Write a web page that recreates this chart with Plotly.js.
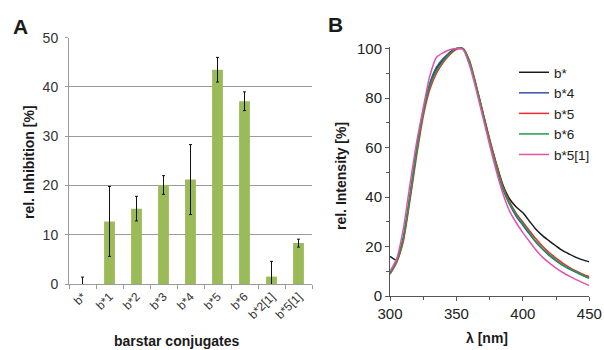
<!DOCTYPE html>
<html>
<head>
<meta charset="utf-8">
<script src="https://cdn.plot.ly/plotly-3.0.1.min.js"></script>
<style>html,body{margin:0;padding:0;background:#fff;}#chart{width:604px;height:350px;}</style>
</head>
<body>
<div id="chart"></div>
<script>
// Panel A data
const conjugates = ["b*", "b*1", "b*2", "b*3", "b*4", "b*5", "b*6", "b*2[1]", "b*5[1]"];
const inhibition = [0, 12.7, 15.3, 20.1, 21.2, 43.5, 37.1, 1.5, 8.3];
const inhibitionErr = [1.4, 7.1, 2.5, 1.9, 7.1, 2.5, 1.9, 3.1, 0.8];

// Panel B data
const wavelength = [300,305,310,315,320,325,330,335,340,345,350,355,360,365,370,375,380,385,390,395,400,405,410,415,420,425,430,435,440,445,450];
const bStar   = [16,14.5,23,40,58.5,74.5,85.5,92,95.5,98.5,100,100,94,84.5,74,63,53.5,44.8,39.2,36,33.6,30.2,26.9,24.3,22.2,20.2,18.3,16.9,15.6,14.6,13.8];
const bStar4  = [9.5,14.5,23.5,40.5,59,75,86,92.5,96,98.3,100,100,93.5,84,73,62,52,43,37,32.2,28.6,25,21.6,18.8,16.3,14.2,12.4,10.9,9.6,8.4,7.3];
const bStar5  = [8.8,13.5,22,38.5,56.5,72.5,83.5,90,94.3,97.5,99.7,100,95,85,74,63.5,53.5,44.2,38,33.4,29.9,26.4,23,20,17.5,15.3,13.3,11.6,10.1,8.8,7.8];
const bStar6  = [9,14,23,40,58,74,85,91,95,98,100,100,94.5,84.5,73.5,62.5,52.5,43.5,37.4,32.9,29.2,25.6,21.9,19.1,16.7,14.5,12.6,11.1,9.8,8.4,7.1];
const bStar51 = [10,15,27,45,62,76,89,96.5,98.3,99.5,100,99.5,93,83,72,61,50.5,41.3,34.3,29.6,25.6,22,18.5,15.6,13.3,11.3,9.5,8,6.6,5.4,4.2];

const seriesNames = ["b*", "b*4", "b*5", "b*6", "b*5[1]"];
const seriesData = [bStar, bStar4, bStar5, bStar6, bStar51];
const seriesColors = ["#1a1a1a", "#3a4fa8", "#ee2a2a", "#1a9e4a", "#e254a6"];

const W = 604, H = 350;
const px = v => v / W;
const py = v => 1 - v / H;
const FONT = "Liberation Sans, Arial, sans-serif";

const traces = [{
  type: "bar",
  x: conjugates,
  y: inhibition,
  xaxis: "x", yaxis: "y",
  width: 0.4,
  marker: {color: "#9bbb59", line: {width: 0}},
  error_y: {type: "data", array: inhibitionErr, visible: true, color: "#111", thickness: 1, width: 1.5},
  showlegend: false
}];

seriesNames.forEach((n, i) => {
  traces.push({
    type: "scatter", mode: "lines",
    x: wavelength, y: seriesData[i],
    xaxis: "x2", yaxis: "y2",
    name: n,
    line: {color: seriesColors[i], width: 1.5, shape: "spline", smoothing: 0.6}
  });
});

function ann(text, x, y, size, angle) {
  return {text: text, x: px(x), y: py(y), xref: "paper", yref: "paper",
    xanchor: "center", yanchor: "middle", showarrow: false, textangle: angle || 0,
    font: {size: size, color: "#1a1a1a", family: FONT}};
}

const layout = {
  width: W, height: H,
  margin: {l: 0, r: 0, t: 0, b: 0},
  paper_bgcolor: "#fff", plot_bgcolor: "rgba(0,0,0,0)",
  font: {family: FONT, color: "#222", size: 13},
  xaxis: {
    domain: [px(69), px(312)],
    anchor: "y",
    type: "category",
    showline: true, linecolor: "#9a9a9a", linewidth: 1,
    ticks: "outside", tickson: "boundaries", ticklen: 4, tickcolor: "#9a9a9a",
    tickangle: -45,
    tickfont: {size: 12, color: "#333", family: FONT},
    showgrid: false, zeroline: false
  },
  yaxis: {
    domain: [py(284), py(37.7)],
    anchor: "x",
    range: [0, 50],
    tickvals: [0, 10, 20, 30, 40, 50],
    showline: true, linecolor: "#9a9a9a", linewidth: 1,
    ticks: "outside", ticklen: 3, tickcolor: "#9a9a9a",
    showgrid: true, gridcolor: "#9a9a9a", gridwidth: 1,
    zeroline: false,
    tickfont: {size: 14, color: "#333", family: FONT},
    ticklabelstandoff: 4
  },
  xaxis2: {
    domain: [px(390), px(589.3)],
    anchor: "y2",
    range: [300, 450],
    tickvals: [300, 350, 400, 450],
    showline: true, linecolor: "#555", linewidth: 1,
    ticks: "outside", ticklen: 4, tickcolor: "#555",
    minor: {tickvals: [325, 375, 425], ticks: "outside", ticklen: 3, tickcolor: "#555"},
    showgrid: false, zeroline: false,
    tickfont: {size: 15, color: "#222", family: FONT}
  },
  yaxis2: {
    domain: [py(296), py(47.3)],
    anchor: "x2",
    range: [0, 100.5],
    tickvals: [0, 20, 40, 60, 80, 100],
    showline: true, linecolor: "#555", linewidth: 1,
    ticks: "outside", ticklen: 4, tickcolor: "#555",
    minor: {tickvals: [10, 30, 50, 70, 90], ticks: "outside", ticklen: 3, tickcolor: "#555"},
    showgrid: false, zeroline: false,
    tickfont: {size: 15, color: "#222", family: FONT}
  },
  legend: {
    x: px(514), y: py(57), xanchor: "left", yanchor: "top",
    font: {size: 13.5, color: "#222", family: FONT},
    bgcolor: "rgba(0,0,0,0)",
    tracegroupgap: 0,
    itemwidth: 30
  },
  annotations: [
    ann("<b>A</b>", 20, 26, 21),
    ann("<b>B</b>", 335, 25, 21),
    ann("<b>rel. Inhibition [%]</b>", 29, 162, 14, -90),
    ann("<b>barstar conjugates</b>", 176, 341, 14),
    ann("<b>rel. Intensity [%]</b>", 341, 176, 14, -90),
    ann("<b>λ [nm]</b>", 487, 338, 14)
  ]
};

Plotly.newPlot("chart", traces, layout, {displayModeBar: false, staticPlot: true});
</script>
</body>
</html>
